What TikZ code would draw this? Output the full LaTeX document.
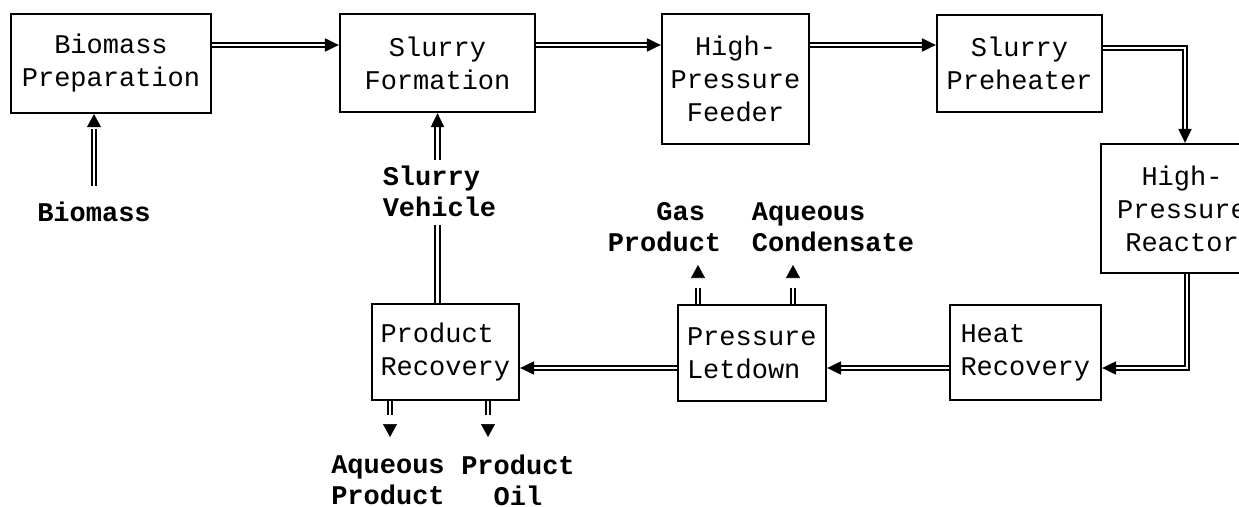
\documentclass[tikz,border=0pt]{standalone}
\usepackage{fontspec}
\setmonofont{Liberation Mono}
\usetikzlibrary{arrows.meta,decorations.markings}
\begin{document}
\begin{tikzpicture}[x=1pt,y=-1pt,
  box/.style={draw, line width=2.2pt, inner sep=0pt, align=center,
    font=\ttfamily\fontsize{27}{33}\selectfont},
  lbox/.style={box, align=left, text width=130pt},
  lbl/.style={inner sep=0pt, font=\ttfamily\bfseries\fontsize{27}{31}\selectfont},
  plain/.style={double, double distance=2.8pt, line width=2pt},
  flow/.style={plain, -{Triangle[length=14pt,width=13pt]}},
  gapflow/.style={plain, shorten >=#1,
    postaction={decorate, decoration={markings,
      mark=at position 1 with {\arrow[line width=0.6pt]{Triangle[length=13pt,width=14pt]}}}}}]
\useasboundingbox (0,0) rectangle (1239,506);
% boxes
\node[box, minimum width=200pt, minimum height=99pt] (bp) at (111,63.5) {Biomass\\Preparation};
\node[box, minimum width=195pt, minimum height=98pt] (sf) at (437.5,63) {Slurry\\Formation};
\node[box, minimum width=147pt, minimum height=130pt] (hpf) at (735.5,79) {High-\\Pressure\\Feeder};
\node[box, minimum width=165pt, minimum height=97pt] (sp) at (1019.5,63.5) {Slurry\\Preheater};
\node[box, minimum width=162pt, minimum height=129pt] (hpr) at (1182,208.5) {High-\\Pressure\\Reactor};
\node[lbox, minimum width=151pt, minimum height=95pt] (hr) at (1025.5,352.5) {Heat\\Recovery};
\node[lbox, minimum width=148pt, minimum height=96pt] (pl) at (752,353) {Pressure\\Letdown};
\node[lbox, minimum width=147pt, minimum height=96pt] (pr) at (445.5,352) {Product\\Recovery};
% labels
\node[lbl] (bio) at (94,212) {Biomass};
\node[lbl, align=left] (sv) at (439.5,191.5) {Slurry\\Vehicle};
\node[lbl, align=left] (gp) at (664.5,227) {\phantom{Pro}Gas\\Product};
\node[lbl, align=left] (ac) at (833,227) {Aqueous\\Condensate};
\node[lbl, align=left] (ap) at (388,480) {Aqueous\\Product};
\node[lbl, align=left] (po) at (518,480) {Product\\\phantom{Pr}Oil};
% free ends of the product arrows
\coordinate (gpt) at (698,265);
\coordinate (act) at (793,265);
\coordinate (apt) at (390,437);
\coordinate (pot) at (488,437);
% flows
\draw[gapflow=15pt] ([yshift=16pt]bio.north) -- (bio.north |- bp.south);
\draw[flow] (bp.east |- 0,45) -- (sf.west |- 0,45);
\draw[flow] (sf.east |- 0,45) -- (hpf.west |- 0,45);
\draw[flow] (hpf.east |- 0,45) -- (sp.west |- 0,45);
\draw[flow] (sp.east |- 0,48) -| ([xshift=3pt]hpr.north);
\draw[flow] ([xshift=5pt]hpr.south) |- (hr.east |- 0,368);
\draw[flow] (hr.west |- 0,368) -- (pl.east |- 0,368);
\draw[flow] (pl.west |- 0,368) -- (pr.east |- 0,368);
\draw[plain] (pr.north -| sf.south) -- ([yshift=-8pt]sv.south -| sf.south);
\draw[flow] ([yshift=6pt]sv.north -| sf.south) -- (sf.south);
\draw[gapflow=23pt] (pl.north -| gpt) -- (gpt);
\draw[gapflow=23pt] (pl.north -| act) -- (act);
\draw[gapflow=22pt] (pr.south -| apt) -- (apt);
\draw[gapflow=22pt] (pr.south -| pot) -- (pot);
\end{tikzpicture}
\end{document}
